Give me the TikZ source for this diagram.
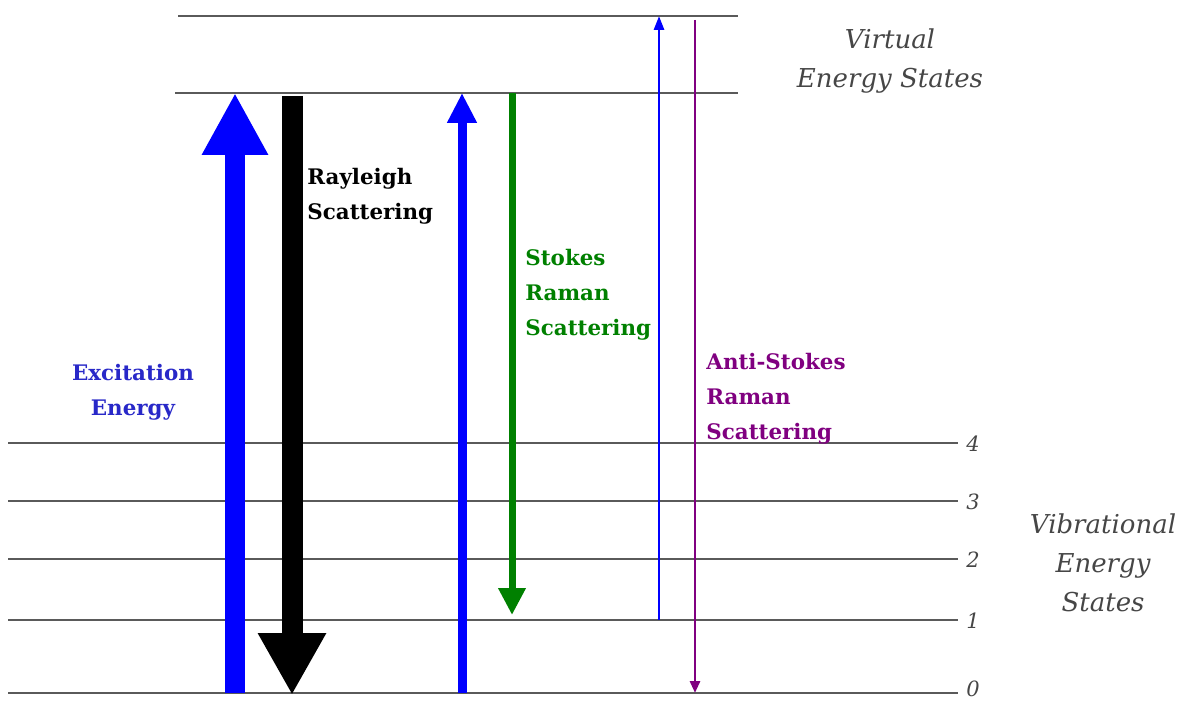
\documentclass[tikz,border=0pt]{standalone}
\usepackage{fontspec}
\setmainfont{DejaVu Serif}
\usetikzlibrary{arrows.meta}
\definecolor{lvl}{RGB}{90,90,90}
\definecolor{pblue}{RGB}{0,0,255}
\definecolor{tblue}{RGB}{40,40,200}
\definecolor{pgreen}{RGB}{0,128,0}
\definecolor{ppurple}{RGB}{128,0,128}
\definecolor{tgray}{RGB}{70,70,70}
\tikzset{
  level/.style={draw=lvl,line width=1.3pt},
  lbl/.style={font=\bfseries\fontsize{10.7}{17.5}\selectfont,align=left,anchor=north west,inner sep=0pt},
  itl/.style={font=\itshape\fontsize{13}{19.5}\selectfont,text=tgray,align=center,inner sep=0pt},
  num/.style={font=\itshape\fontsize{10.5}{12}\selectfont,text=tgray,anchor=west,inner sep=0pt}
}
\begin{document}
\begin{tikzpicture}[x=0.5pt,y=-0.5pt]
\useasboundingbox (0,0) rectangle (1192,704);
% level coordinates
\coordinate (v0l) at (8,693);   \coordinate (v0r) at (958,693);
\coordinate (v1l) at (8,620);   \coordinate (v1r) at (958,620);
\coordinate (v2l) at (8,559);   \coordinate (v2r) at (958,559);
\coordinate (v3l) at (8,501);   \coordinate (v3r) at (958,501);
\coordinate (v4l) at (8,443);   \coordinate (v4r) at (958,443);
\coordinate (u1l) at (175,93);  \coordinate (u1r) at (738,93);
\coordinate (u2l) at (178,16);  \coordinate (u2r) at (738,16);
\foreach \n in {v0,v1,v2,v3,v4,u1,u2} \draw[level] (\n l) -- (\n r);
% level numbers
\node[num] (n4) at (966,444) {4};
\node[num] (n3) at (966,502) {3};
\node[num] (n2) at (966,560) {2};
\node[num] (n1) at (966,621) {1};
\node[num] (n0) at (966,689) {0};
% arrow endpoints
\coordinate (a1s) at (235,693); \coordinate (a1e) at (235,93);
\coordinate (a2s) at (292,96);  \coordinate (a2e) at (292,695);
\coordinate (a3s) at (462,693); \coordinate (a3e) at (462,93);
\coordinate (a4s) at (512,93);  \coordinate (a4e) at (512,615);
\coordinate (a5s) at (659,620); \coordinate (a5e) at (659,16);
\coordinate (a6s) at (695,20);  \coordinate (a6e) at (695,693);
\draw[pblue,line width=10pt,-{Triangle[width=31pt,length=31pt]}] (a1s) -- (a1e);
\draw[black,line width=10.5pt,-{Triangle[width=32pt,length=31pt]}] (a2s) -- (a2e);
\draw[pblue,line width=4.5pt,-{Triangle[width=14pt,length=15pt]}] (a3s) -- (a3e);
\draw[pgreen,line width=3.5pt,-{Triangle[width=13pt,length=13.5pt]}] (a4s) -- (a4e);
\draw[pblue,line width=1.4pt,-{Triangle[width=5pt,length=7pt]}] (a5s) -- (a5e);
\draw[ppurple,line width=1.4pt,-{Triangle[width=5pt,length=6pt]}] (a6s) -- (a6e);
% labels
\node[lbl,text=tblue,align=center,anchor=north] (exc) at (133,364) {Excitation\\Energy};
\node[lbl,text=black] (ray) at (307,168) {Rayleigh\\Scattering};
\node[lbl,text=pgreen] (sto) at (525,249) {Stokes\\Raman\\Scattering};
\node[lbl,text=ppurple] (ast) at (706,353) {Anti-Stokes\\Raman\\Scattering};
\node[itl] (virt) at (890,61) {Virtual\\Energy States};
\node[itl] (vib) at (1103,563) {Vibrational\\Energy\\States};
\end{tikzpicture}
\end{document}
